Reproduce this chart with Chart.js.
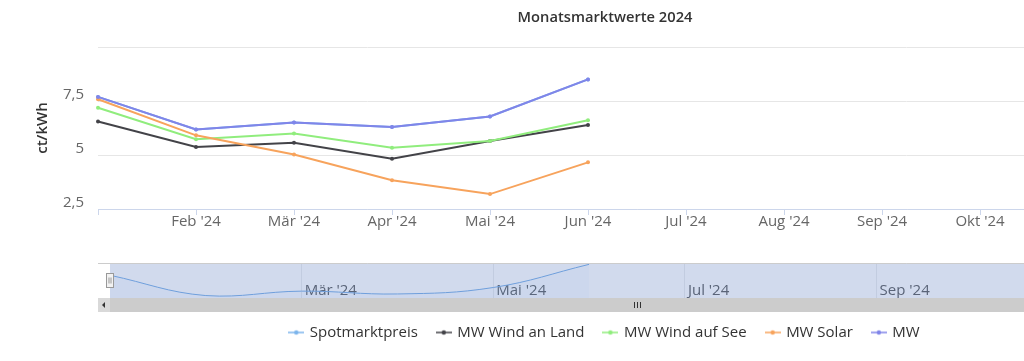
<!DOCTYPE html>
<html>
<head>
<meta charset="utf-8">
<script src="https://cdn.jsdelivr.net/npm/chart.js@4.4.1/dist/chart.umd.min.js"></script>
<style>
html, body { margin: 0; padding: 0; background: #fff; overflow: hidden; }
#wrap { position: relative; width: 1210px; height: 361px; }
#main { position: absolute; left: 0; top: 0; }
#nav { position: absolute; left: 0; top: 258px; }
</style>
</head>
<body>
<div id="wrap">
  <canvas id="main" width="1210" height="361"></canvas>
  <canvas id="nav" width="1210" height="58"></canvas>
</div>
<script>
// x axis categories (Jan is not labelled in the main chart)
const months = ["Jan '24", "Feb '24", "Mär '24", "Apr '24", "Mai '24", "Jun '24",
                "Jul '24", "Aug '24", "Sep '24", "Okt '24", "Nov '24", "Dez '24"];

// values in ct/kWh
const spotmarktpreis = [7.69, 6.18, 6.51, 6.30, 6.78, 8.50];
const mwWindLand     = [6.55, 5.37, 5.57, 4.83, 5.65, 6.39];
const mwWindSee      = [7.19, 5.73, 5.99, 5.34, 5.65, 6.61];
const mwSolar        = [7.58, 5.91, 5.02, 3.83, 3.19, 4.66];
const mw             = [7.69, 6.18, 6.51, 6.30, 6.78, 8.50];

// y ticks (the top one has no label)
const yTicks = [2.5, 5, 7.5, 10];

const H = 361;
const PAD_SIDE = 34;
const PAD_BOTTOM = 11;
const PLOT_LEFT = 98;
const PLOT_TOP = 47;
const PLOT_BOTTOM = 209;

Chart.defaults.font.family = "'Open Sans', sans-serif";
Chart.defaults.color = '#666';

//Small line + dot symbol like the legend of the original
function legendIcon(color) {
    const c = document.createElement('canvas');
    c.width = 16;
    c.height = 8;
    const g = c.getContext('2d');
    g.strokeStyle = color;
    g.lineWidth = 1.5;
    g.beginPath();
    g.moveTo(0, 4);
    g.lineTo(16, 4);
    g.stroke();
    g.fillStyle = color;
    g.beginPath();
    g.arc(8, 4, 2.2, 0, Math.PI * 2);
    g.fill();
    return c;
}

function series(label, data, color, order) {
    return {
        label: label,
        data: data,
        borderColor: color,
        backgroundColor: color,
        borderWidth: 2,
        pointRadius: 2,
        pointBorderWidth: 0,
        pointBackgroundColor: color,
        tension: 0,
        fill: false,
        order: order
    };
}

const datasets = [
    series('Spotmarktpreis', spotmarktpreis, '#7cb5ec', 4),
    series('MW Wind an Land', mwWindLand, '#434348', 3),
    series('MW Wind auf See', mwWindSee, '#90ed7d', 2),
    series('MW Solar', mwSolar, '#f7a35c', 1),
    series('MW', mw, '#8085e9', 0)
];
const icons = datasets.map(d => legendIcon(d.borderColor));

const mainChart = new Chart(document.getElementById('main'), {
    type: 'line',
    data: { labels: months, datasets: datasets },
    options: {
        responsive: false,
        animation: false,
        layout: { padding: { left: PAD_SIDE, right: PAD_SIDE, top: 0, bottom: PAD_BOTTOM } },
        plugins: {
            title: {
                display: true,
                text: 'Monatsmarktwerte 2024',
                color: '#333',
                font: { size: 14.7, weight: '600' },
                padding: { top: 9, bottom: PLOT_TOP - 9 - 14.7 * 1.2 }
            },
            legend: {
                position: 'bottom',
                labels: {
                    usePointStyle: true,
                    pointStyleWidth: 12,
                    padding: 20,
                    color: '#333',
                    font: { size: 15 },
                    sort: (a, b) => a.datasetIndex - b.datasetIndex,
                    generateLabels: function(chart) {
                        const items = Chart.defaults.plugins.legend.labels.generateLabels(chart);
                        items.forEach(it => { it.pointStyle = icons[it.datasetIndex]; });
                        return items;
                    }
                }
            },
            tooltip: { enabled: false }
        },
        scales: {
            x: {
                type: 'category',
                offset: false,
                grid: { drawOnChartArea: false, drawTicks: true, tickLength: 6, color: '#ccd6eb' },
                border: { color: '#ccd6eb' },
                ticks: {
                    autoSkip: false,
                    maxRotation: 0,
                    padding: -2,
                    font: { size: 15 },
                    callback: (v, i) => i === 0 ? '' : months[i]
                },
                afterFit: s => { s.height = H - PAD_BOTTOM - s.chart.legend.height - PLOT_BOTTOM; }
            },
            y: {
                min: 2.5,
                max: 10,
                afterBuildTicks: s => { s.ticks = yTicks.map(v => ({ value: v })); },
                grid: { color: '#e6e6e6', drawTicks: false },
                border: { display: false },
                ticks: {
                    padding: 14,
                    labelOffset: -6,
                    font: { size: 15 },
                    callback: v => v === 10 ? '' : String(v).replace('.', ',')
                },
                title: {
                    display: true,
                    text: 'ct/kWh',
                    color: '#333',
                    font: { size: 15, weight: '600' },
                    padding: { top: 0, bottom: 0 }
                },
                afterFit: s => { s.width = PLOT_LEFT - PAD_SIDE; }
            }
        }
    }
});

//Navigator: mask, outline, labels, handle and scrollbar
const navDecor = {
    id: 'navDecor',
    beforeDraw(chart) {
        const { ctx, chartArea: a } = chart;
        ctx.save();
        ctx.fillStyle = 'rgba(102,133,194,0.3)';
        ctx.fillRect(a.left, a.top, a.right - a.left, a.bottom - a.top);
        ctx.restore();
    },
    beforeDatasetsDraw(chart) {
        // labels sit inside the navigator, right of every second grid line
        const { ctx, chartArea: a, scales } = chart;
        ctx.save();
        ctx.fillStyle = '#5a6478';
        ctx.font = "15px 'Open Sans', sans-serif";
        ctx.textAlign = 'left';
        ctx.textBaseline = 'middle';
        months.forEach((m, i) => {
            if (i % 2 === 0 && i > 0) {
                ctx.fillText(m, scales.x.getPixelForValue(i) + 3, a.bottom - 7.5);
            }
        });
        ctx.restore();
    },
    afterDraw(chart) {
        const { ctx, chartArea: a } = chart;
        const left = a.left - 12, right = a.right + 12;
        const sy = a.bottom, sh = 14;
        ctx.save();
        // top outline
        ctx.strokeStyle = '#cccccc';
        ctx.lineWidth = 1;
        ctx.beginPath();
        ctx.moveTo(left, a.top + 0.5);
        ctx.lineTo(right, a.top + 0.5);
        ctx.stroke();
        // scrollbar track + thumb + buttons
        ctx.fillStyle = '#f2f2f2';
        ctx.fillRect(left, sy, right - left, sh);
        ctx.fillStyle = '#cccccc';
        ctx.fillRect(a.left, sy, a.right - a.left, sh);
        ctx.fillStyle = '#d9d9d9';
        ctx.fillRect(left, sy, 12, sh);
        ctx.fillRect(a.right, sy, 12, sh);
        ctx.fillStyle = '#333';
        ctx.beginPath();
        ctx.moveTo(left + 4, sy + sh / 2);
        ctx.lineTo(left + 7, sy + sh / 2 - 3);
        ctx.lineTo(left + 7, sy + sh / 2 + 3);
        ctx.closePath();
        ctx.fill();
        // grip
        const cx = Math.round((a.left + a.right) / 2);
        ctx.strokeStyle = '#333';
        ctx.beginPath();
        [-3, 0, 3].forEach(d => {
            ctx.moveTo(cx + d + 0.5, sy + 4);
            ctx.lineTo(cx + d + 0.5, sy + 10);
        });
        ctx.stroke();
        // left handle
        const hx = Math.round(a.left) - 3.5, hy = Math.round((a.top + a.bottom) / 2) - 7.5;
        ctx.fillStyle = '#f2f2f2';
        ctx.strokeStyle = '#999';
        ctx.fillRect(hx, hy, 7, 14);
        ctx.strokeRect(hx, hy, 7, 14);
        ctx.beginPath();
        ctx.moveTo(hx + 2.5, hy + 4);
        ctx.lineTo(hx + 2.5, hy + 10);
        ctx.moveTo(hx + 4.5, hy + 4);
        ctx.lineTo(hx + 4.5, hy + 10);
        ctx.stroke();
        ctx.restore();
    }
};

const navChart = new Chart(document.getElementById('nav'), {
    type: 'line',
    data: {
        labels: months,
        datasets: [{
            data: spotmarktpreis,
            borderColor: '#6f9fdc',
            backgroundColor: 'rgba(124,181,236,0.05)',
            borderWidth: 1,
            pointRadius: 0,
            tension: 0.4,
            fill: 'start'
        }]
    },
    options: {
        responsive: false,
        animation: false,
        layout: { padding: { left: 110, right: 46, top: 5, bottom: 18 } },
        plugins: { legend: { display: false }, tooltip: { enabled: false } },
        scales: {
            x: {
                type: 'category',
                offset: false,
                border: { display: false },
                grid: {
                    drawTicks: false,
                    color: c => (c.index % 2 === 0 && c.index > 0) ? '#c2cce0' : 'rgba(0,0,0,0)'
                },
                ticks: { display: false },
                afterFit: s => { s.height = 0; }
            },
            y: { display: false, min: 6.0, max: 8.6 }
        }
    },
    plugins: [navDecor]
});
</script>
</body>
</html>
